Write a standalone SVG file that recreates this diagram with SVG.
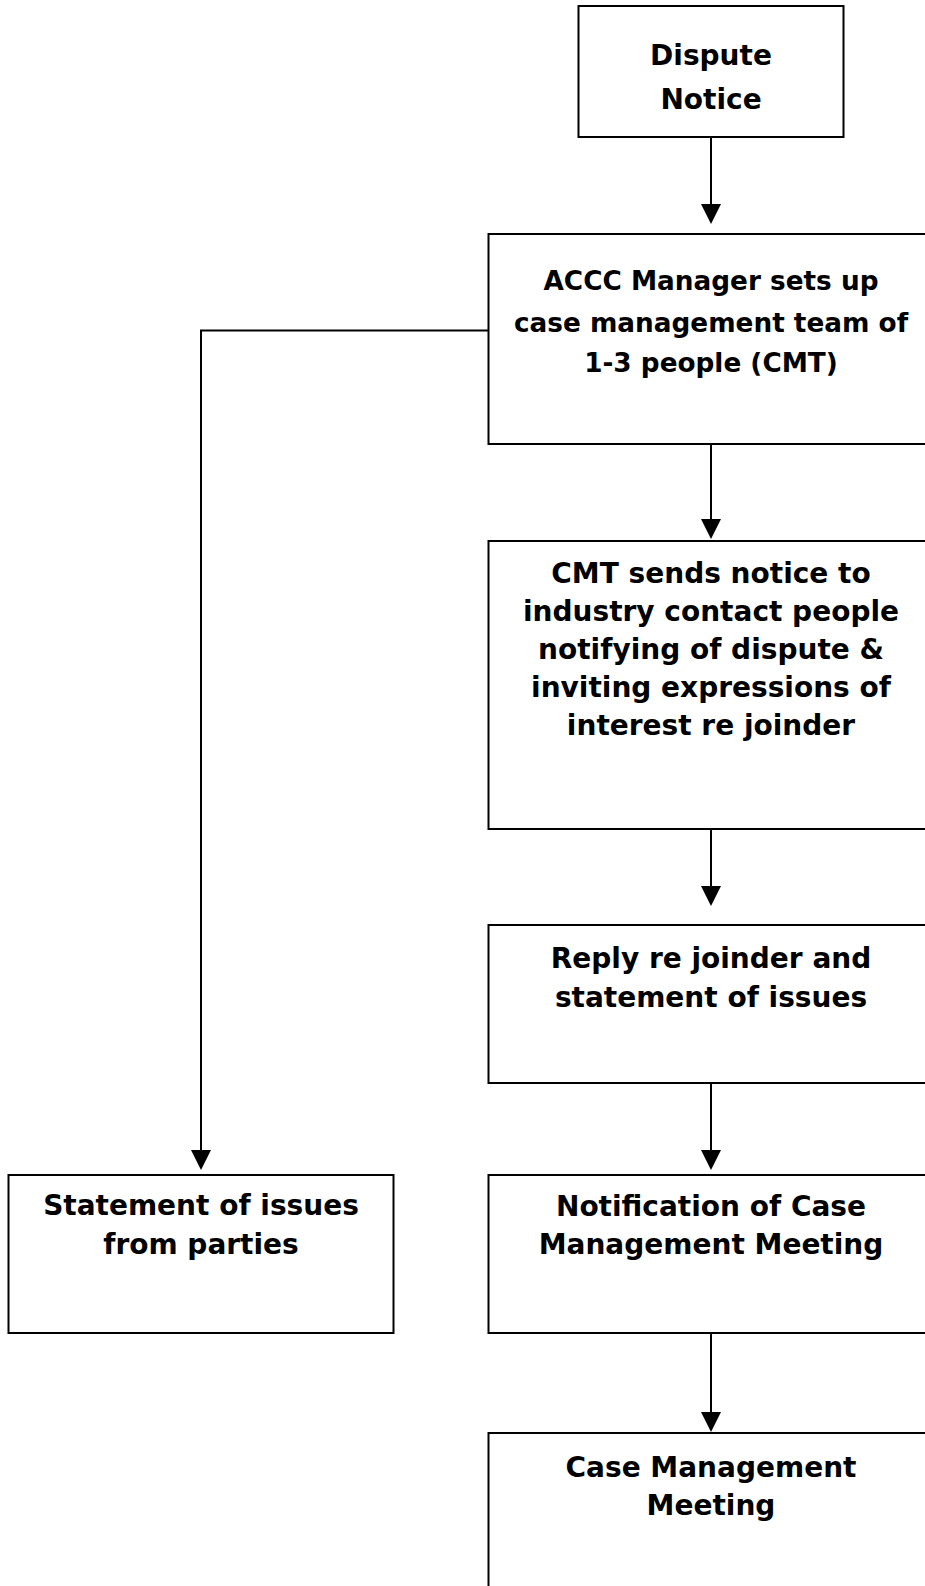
<svg xmlns="http://www.w3.org/2000/svg" width="925" height="1586" viewBox="0 0 925 1586">
<style>
.box{fill:#fff;stroke:#000;stroke-width:2}
.lbl{font-family:"DejaVu Sans",Verdana,sans-serif;font-weight:bold;font-size:28px;fill:#000;text-anchor:middle}
.sm{font-size:26.3px}
.con{fill:none;stroke:#000;stroke-width:2}
.head{fill:#000;stroke:none}
</style>
<rect width="925" height="1586" fill="#fff"/>
<g id="connectors">
<line class="con" x1="711" y1="137" x2="711" y2="206"/>
<polygon class="head" points="701,204 721,204 711,224"/>
<line class="con" x1="711" y1="444" x2="711" y2="521"/>
<polygon class="head" points="701,519 721,519 711,539"/>
<line class="con" x1="711" y1="829" x2="711" y2="888"/>
<polygon class="head" points="701,886 721,886 711,906"/>
<line class="con" x1="711" y1="1083" x2="711" y2="1152"/>
<polygon class="head" points="701,1150 721,1150 711,1170"/>
<polyline class="con" points="488.5,330.5 201,330.5 201,1152"/>
<polygon class="head" points="191,1150 211,1150 201,1170"/>
<line class="con" x1="711" y1="1333" x2="711" y2="1414"/>
<polygon class="head" points="701,1412 721,1412 711,1432"/>
</g>
<g id="dispute-notice">
<rect class="box" x="578.5" y="6" width="265" height="131"/>
<text class="lbl" x="711" y="64.5">Dispute</text>
<text class="lbl" x="711" y="109">Notice</text>
</g>
<g id="accc-manager">
<rect class="box" x="488.5" y="234" width="450" height="210"/>
<text class="lbl sm" x="711" y="290">ACCC Manager sets up</text>
<text class="lbl sm" x="711" y="331.5">case management team of</text>
<text class="lbl sm" x="711" y="372">1-3 people (CMT)</text>
</g>
<g id="cmt-notice">
<rect class="box" x="488.5" y="541" width="450" height="288"/>
<text class="lbl" x="711" y="583">CMT sends notice to</text>
<text class="lbl" x="711" y="621">industry contact people</text>
<text class="lbl" x="711" y="659">notifying of dispute &amp;</text>
<text class="lbl" x="711" y="697">inviting expressions of</text>
<text class="lbl" x="711" y="735">interest re joinder</text>
</g>
<g id="reply">
<rect class="box" x="488.5" y="925" width="450" height="158"/>
<text class="lbl" x="711" y="968">Reply re joinder and</text>
<text class="lbl" x="711" y="1007">statement of issues</text>
</g>
<g id="statement">
<rect class="box" x="8.5" y="1175" width="385" height="158"/>
<text class="lbl" x="201" y="1215">Statement of issues</text>
<text class="lbl" x="201" y="1254">from parties</text>
</g>
<g id="notification">
<rect class="box" x="488.5" y="1175" width="450" height="158"/>
<text class="lbl" x="711" y="1216">Notification of Case</text>
<text class="lbl" x="711" y="1254">Management Meeting</text>
</g>
<g id="case-meeting">
<rect class="box" x="488.5" y="1433" width="450" height="200"/>
<text class="lbl" x="711" y="1477">Case Management</text>
<text class="lbl" x="711" y="1515">Meeting</text>
</g>
</svg>
